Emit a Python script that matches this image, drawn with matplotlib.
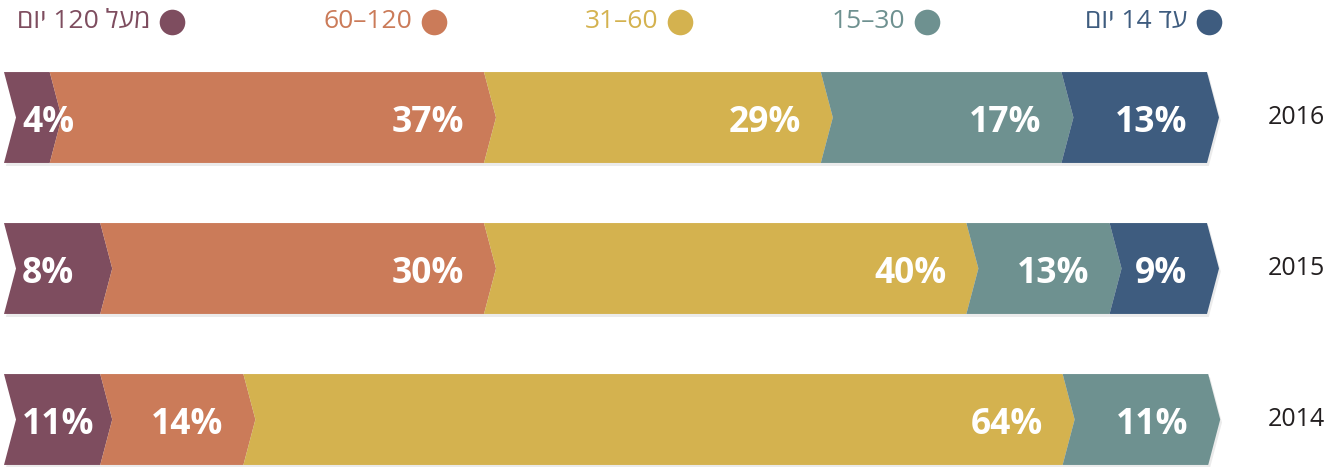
import matplotlib.pyplot as plt
from matplotlib.patches import Polygon

years = ['2016', '2015', '2014']
categories = ['מעל 120 יום', '60–120', '31–60', '15–30', 'עד 14 יום']
colors = ['#7e4d5f', '#cb7b59', '#d4b24f', '#6e9190', '#3e5c7f']

# segment sizes as drawn (percent of bar), left to right
drawn_2016 = [3.8, 36.1, 28.0, 20.0, 12.1]
drawn_2015 = [8.0, 31.9, 40.1, 11.9, 8.1]
drawn_2014 = [8.0, 11.9, 68.1, 12.1, 0]
# printed labels
labels_2016 = ['4%', '37%', '29%', '17%', '13%']
labels_2015 = ['8%', '30%', '40%', '13%', '9%']
labels_2014 = ['11%', '14%', '64%', '11%', '']

drawn = [drawn_2016, drawn_2015, drawn_2014]
labels = [labels_2016, labels_2015, labels_2014]

FONT = ['Open Sans', 'DejaVu Sans']


def visual(s):
    # matplotlib has no bidi, so put Hebrew text in visual order
    if not any('\u0590' <= ch <= '\u05ff' for ch in s):
        return s
    toks = s.split(' ')[::-1]
    return ' '.join(t[::-1] if any('\u0590' <= ch <= '\u05ff' for ch in t) else t for t in toks)


PXX = 12.03   # pixels per percent
PXY = 151.0   # pixels per bar row


def px(p):
    return (p - 4) / PXX


def py(p):
    return (p - 117.5) / PXY


fig = plt.figure(figsize=(13.36, 4.67), dpi=100)
ax = fig.add_axes([0, 0, 1, 1])
ax.set_xlim(px(0), px(1336))
ax.set_ylim(py(467), py(0))
ax.axis('off')

d = 12 / PXX
h = 0.301

for i, (vals, labs) in enumerate(zip(drawn, labels)):
    left = 0
    for j, (v, lab) in enumerate(zip(vals, labs)):
        if v <= 0:
            continue
        right = left + v
        pts = [(left, i - h), (right, i - h), (right + d, i), (right, i + h),
               (left, i + h), (left + d, i)]
        shadow = [(x + 0.15, y + 0.02) for x, y in pts]
        ax.add_patch(Polygon(shadow, closed=True, color='#000000', alpha=0.08,
                             lw=0, zorder=1))
        ax.add_patch(Polygon(pts, closed=True, color=colors[j], lw=0, zorder=2))
        if j == 0:
            ax.text(left + 18 / PXX, i + 0.097, lab, ha='left', va='baseline',
                    color='white', fontsize=25.5, fontweight='bold', family=FONT, zorder=3)
        else:
            ax.text(right - 20 / PXX, i + 0.097, lab, ha='right', va='baseline',
                    color='white', fontsize=25.5, fontweight='bold', family=FONT, zorder=3)
        left = right
    ax.text(px(1268), i, years[i], ha='left', va='center', fontsize=18,
            color='#231f20', family=FONT)

# legend
legend_x = [172, 434, 680, 927, 1209]
for cat, col, cx in zip(categories, colors, legend_x):
    ax.scatter([px(cx)], [py(21.5)], s=340, color=col, lw=0, zorder=3)
    ax.text(px(cx - 22), py(28), visual(cat), ha='right', va='baseline',
            fontsize=19, color=col, family=FONT)

fig.savefig('out.png', dpi=100)
